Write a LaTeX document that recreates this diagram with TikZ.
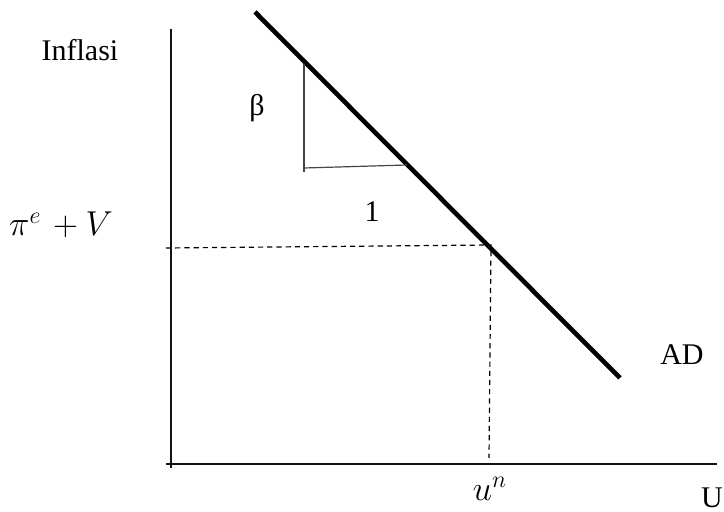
\documentclass[tikz,border=0pt]{standalone}
\usepackage{amsmath}
\usepackage{fontspec}
\setmainfont{Liberation Serif}
\usepackage{tikz}
\usetikzlibrary{calc}
\definecolor{axisgray}{RGB}{20,20,20}
\definecolor{tigray}{RGB}{70,70,70}
\tikzset{
  axisline/.style={axisgray, line width=0.75pt},
  guideline/.style={black, line width=0.6pt, dash pattern=on 2.6pt off 2pt},
  curveline/.style={black, line width=2.3pt},
  slopeline/.style={tigray, line width=0.6pt},
  lbl/.style={inner sep=0pt, font=\fontsize{15}{18}\selectfont},
  mathlbl/.style={inner sep=0pt, font=\fontsize{18}{21}\selectfont}
}

\begin{document}
\begin{tikzpicture}[x=0.5pt,y=-0.5pt]
\useasboundingbox (0,0) rectangle (724,512);
% axes
\coordinate (ytop) at (171,29);
\coordinate (ybot) at (171,468);
\coordinate (xleft) at (166,464);
\coordinate (xend) at (717,464);
\draw[axisline] (ytop)--(ybot);
\draw[axisline] (xleft)--(xend);
% AD curve
\coordinate (adtop) at (255,12);
\coordinate (adbot) at (620,378);
\draw[curveline] (adtop)--(adbot);
% equilibrium guides
\coordinate (eq) at (491,245);
\coordinate (eqy) at (166,248);
\coordinate (eqx) at (489,458);
\draw[guideline] (eqy)--(eq)--(eqx);
% slope triangle
\coordinate (tri1) at (304,64);
\coordinate (tri2) at (304,172);
\coordinate (tri3) at (304,168);
\coordinate (tri4) at (407,165);
\draw[slopeline] (tri1)--(tri2);
\draw[slopeline] (tri3)--(tri4);
% labels
\node[lbl] (inflasi) at (80,50) {Inflasi};
\node[lbl] (beta) at (257,108) {β};
\node[lbl] (one) at (372,212) {1};
\node[mathlbl] (piv) at (61,225) {$\pi^{e}\mkern2mu+V$};
\node[lbl] (ad) at (682,355) {AD};
\node[mathlbl] (un) at (490,489) {$u^{n}$};
\node[lbl] (ulbl) at (712,498) {U};
\end{tikzpicture}
\end{document}
